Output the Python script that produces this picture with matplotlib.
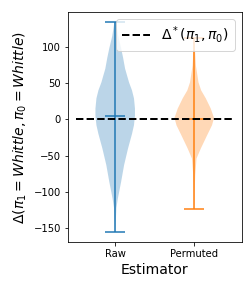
import matplotlib
matplotlib.use('Agg')
import matplotlib.pyplot as plt
import numpy as np

# violin profiles (value -> relative density)
estimators = ['Raw', 'Permuted']

raw_coords = [-155, -140, -122, -109, -86, -63, -40, -20, -8, 5, 15, 29, 40, 51, 70, 85, 98, 115, 134]
raw_vals = [0.2, 0.6, 1.2, 2.7, 6, 9, 13, 17, 19, 20, 20, 19, 17, 14, 10, 8, 6, 3, 0.8]
raw_mean = 4
raw_min, raw_max = -155, 134

perm_coords = [-124, -100, -77, -54, -40, -22, -8, 2, 15, 29, 40, 51, 74, 95, 113]
perm_vals = [0.2, 0.4, 1, 2.3, 6.7, 13, 18, 20, 16.7, 11.7, 7, 4.3, 1.7, 0.8, 0.4]
perm_mean = 0.5
perm_min, perm_max = -124, 113

true_delta = 0


def stats(coords, vals, mean, vmin, vmax):
    return dict(coords=np.array(coords, dtype=float), vals=np.array(vals, dtype=float),
                mean=mean, median=mean, min=vmin, max=vmax)


fig, ax = plt.subplots(figsize=(3.5, 4), dpi=72)
fig.subplots_adjust(left=0.269, right=0.959, bottom=0.159, top=0.959)

ax.violin([stats(raw_coords, raw_vals, raw_mean, raw_min, raw_max)], positions=[1], showmeans=True)
ax.violin([stats(perm_coords, perm_vals, perm_mean, perm_min, perm_max)], positions=[2], showmeans=True)

ax.plot([0.5, 2.5], [true_delta, true_delta], 'k--', lw=2, label=r'$\Delta^*(\pi_1, \pi_0)$')

ax.set_xticks([1, 2])
ax.set_xticklabels(estimators)
ax.set_xlabel('Estimator', fontsize=14)
ax.set_ylabel(r'$\Delta(\pi_1 = Whittle, \pi_0 = Whittle)$', fontsize=14)
ax.legend(loc='upper right', fontsize=14)

plt.savefig('out.png')
